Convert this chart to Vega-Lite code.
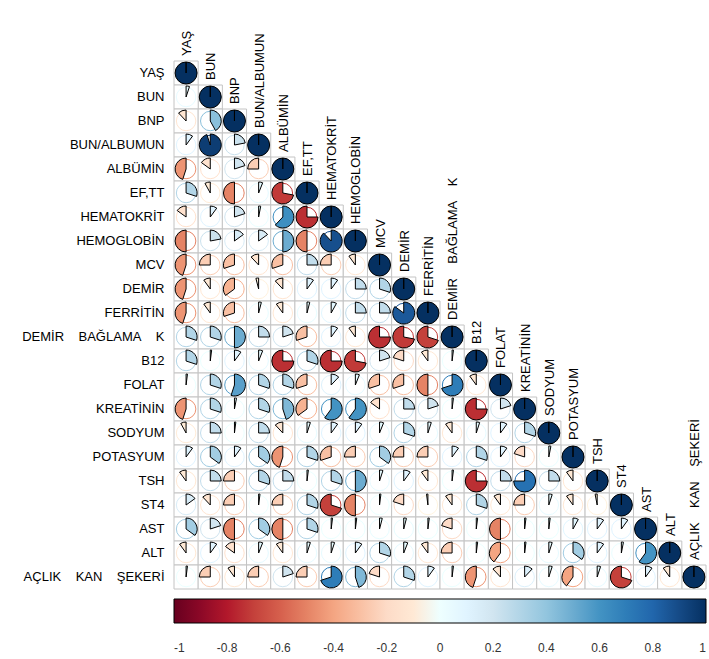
{
  "$schema": "https://vega.github.io/schema/vega-lite/v6.json",
  "autosize": "none",
  "padding": {"left": 174, "top": 61, "right": 3, "bottom": 70},
  "width": 532,
  "height": 528,
  "config": {"view": {"stroke": null}, "font": "Liberation Sans"},
  "data": {"values": [
    {"row":"YAŞ","col":"YAŞ","r":1},
    {"row":"BUN","col":"BUN","r":1},
    {"row":"BNP","col":"BNP","r":1},
    {"row":"BUN/ALBUMUN","col":"BUN/ALBUMUN","r":1},
    {"row":"ALBÜMİN","col":"ALBÜMİN","r":1},
    {"row":"EF,TT","col":"EF,TT","r":1},
    {"row":"HEMATOKRİT","col":"HEMATOKRİT","r":1},
    {"row":"HEMOGLOBİN","col":"HEMOGLOBİN","r":1},
    {"row":"MCV","col":"MCV","r":1},
    {"row":"DEMİR","col":"DEMİR","r":1},
    {"row":"FERRİTİN","col":"FERRİTİN","r":1},
    {"row":"DEMİR BAĞLAMA K","col":"DEMİR BAĞLAMA K","r":1},
    {"row":"B12","col":"B12","r":1},
    {"row":"FOLAT","col":"FOLAT","r":1},
    {"row":"KREATİNİN","col":"KREATİNİN","r":1},
    {"row":"SODYUM","col":"SODYUM","r":1},
    {"row":"POTASYUM","col":"POTASYUM","r":1},
    {"row":"TSH","col":"TSH","r":1},
    {"row":"ST4","col":"ST4","r":1},
    {"row":"AST","col":"AST","r":1},
    {"row":"ALT","col":"ALT","r":1},
    {"row":"AÇLIK KAN ŞEKERİ","col":"AÇLIK KAN ŞEKERİ","r":1},
    {"row":"BUN","col":"YAŞ","r":0.05},
    {"row":"BNP","col":"YAŞ","r":-0.12},
    {"row":"BNP","col":"BUN","r":0.42},
    {"row":"BUN/ALBUMUN","col":"YAŞ","r":0.1},
    {"row":"BUN/ALBUMUN","col":"BUN","r":0.95},
    {"row":"BUN/ALBUMUN","col":"BNP","r":0.22},
    {"row":"ALBÜMİN","col":"YAŞ","r":-0.45},
    {"row":"ALBÜMİN","col":"BUN","r":-0.15},
    {"row":"ALBÜMİN","col":"BNP","r":0.2},
    {"row":"ALBÜMİN","col":"BUN/ALBUMUN","r":-0.25},
    {"row":"EF,TT","col":"YAŞ","r":0.3},
    {"row":"EF,TT","col":"BUN","r":-0.08},
    {"row":"EF,TT","col":"BNP","r":-0.5},
    {"row":"EF,TT","col":"BUN/ALBUMUN","r":0.06},
    {"row":"EF,TT","col":"ALBÜMİN","r":-0.72},
    {"row":"HEMATOKRİT","col":"YAŞ","r":-0.15},
    {"row":"HEMATOKRİT","col":"BUN","r":0.1},
    {"row":"HEMATOKRİT","col":"BNP","r":0.2},
    {"row":"HEMATOKRİT","col":"BUN/ALBUMUN","r":0.03},
    {"row":"HEMATOKRİT","col":"ALBÜMİN","r":0.62},
    {"row":"HEMATOKRİT","col":"EF,TT","r":-0.75},
    {"row":"HEMOGLOBİN","col":"YAŞ","r":-0.5},
    {"row":"HEMOGLOBİN","col":"BUN","r":0.22},
    {"row":"HEMOGLOBİN","col":"BNP","r":0.15},
    {"row":"HEMOGLOBİN","col":"BUN/ALBUMUN","r":0.15},
    {"row":"HEMOGLOBİN","col":"ALBÜMİN","r":0.5},
    {"row":"HEMOGLOBİN","col":"EF,TT","r":-0.5},
    {"row":"HEMOGLOBİN","col":"HEMATOKRİT","r":0.88},
    {"row":"MCV","col":"YAŞ","r":-0.45},
    {"row":"MCV","col":"BUN","r":-0.25},
    {"row":"MCV","col":"BNP","r":-0.3},
    {"row":"MCV","col":"BUN/ALBUMUN","r":-0.12},
    {"row":"MCV","col":"ALBÜMİN","r":-0.3},
    {"row":"MCV","col":"EF,TT","r":0.25},
    {"row":"MCV","col":"HEMATOKRİT","r":-0.25},
    {"row":"MCV","col":"HEMOGLOBİN","r":-0.1},
    {"row":"DEMİR","col":"YAŞ","r":-0.45},
    {"row":"DEMİR","col":"BUN","r":-0.1},
    {"row":"DEMİR","col":"BNP","r":-0.35},
    {"row":"DEMİR","col":"BUN/ALBUMUN","r":-0.04},
    {"row":"DEMİR","col":"ALBÜMİN","r":-0.12},
    {"row":"DEMİR","col":"EF,TT","r":0.1},
    {"row":"DEMİR","col":"HEMATOKRİT","r":0.1},
    {"row":"DEMİR","col":"HEMOGLOBİN","r":0.25},
    {"row":"DEMİR","col":"MCV","r":0.3},
    {"row":"FERRİTİN","col":"YAŞ","r":-0.45},
    {"row":"FERRİTİN","col":"BUN","r":-0.1},
    {"row":"FERRİTİN","col":"BNP","r":-0.3},
    {"row":"FERRİTİN","col":"BUN/ALBUMUN","r":0.04},
    {"row":"FERRİTİN","col":"ALBÜMİN","r":-0.1},
    {"row":"FERRİTİN","col":"EF,TT","r":0.04},
    {"row":"FERRİTİN","col":"HEMATOKRİT","r":0.08},
    {"row":"FERRİTİN","col":"HEMOGLOBİN","r":0.25},
    {"row":"FERRİTİN","col":"MCV","r":0.25},
    {"row":"FERRİTİN","col":"DEMİR","r":0.85},
    {"row":"DEMİR BAĞLAMA K","col":"YAŞ","r":0.3},
    {"row":"DEMİR BAĞLAMA K","col":"BUN","r":0.3},
    {"row":"DEMİR BAĞLAMA K","col":"BNP","r":0.5},
    {"row":"DEMİR BAĞLAMA K","col":"BUN/ALBUMUN","r":0.25},
    {"row":"DEMİR BAĞLAMA K","col":"ALBÜMİN","r":0.2},
    {"row":"DEMİR BAĞLAMA K","col":"EF,TT","r":-0.3},
    {"row":"DEMİR BAĞLAMA K","col":"HEMATOKRİT","r":0.1},
    {"row":"DEMİR BAĞLAMA K","col":"HEMOGLOBİN","r":-0.1},
    {"row":"DEMİR BAĞLAMA K","col":"MCV","r":-0.75},
    {"row":"DEMİR BAĞLAMA K","col":"DEMİR","r":-0.72},
    {"row":"DEMİR BAĞLAMA K","col":"FERRİTİN","r":-0.7},
    {"row":"B12","col":"YAŞ","r":0.3},
    {"row":"B12","col":"BUN","r":0.02},
    {"row":"B12","col":"BNP","r":0.1},
    {"row":"B12","col":"BUN/ALBUMUN","r":0.06},
    {"row":"B12","col":"ALBÜMİN","r":-0.75},
    {"row":"B12","col":"EF,TT","r":0.3},
    {"row":"B12","col":"HEMATOKRİT","r":-0.75},
    {"row":"B12","col":"HEMOGLOBİN","r":-0.72},
    {"row":"B12","col":"MCV","r":0.2},
    {"row":"B12","col":"DEMİR","r":-0.2},
    {"row":"B12","col":"FERRİTİN","r":-0.1},
    {"row":"B12","col":"DEMİR BAĞLAMA K","r":0.02},
    {"row":"FOLAT","col":"YAŞ","r":0.02},
    {"row":"FOLAT","col":"BUN","r":0.3},
    {"row":"FOLAT","col":"BNP","r":0.55},
    {"row":"FOLAT","col":"BUN/ALBUMUN","r":0.3},
    {"row":"FOLAT","col":"ALBÜMİN","r":0.3},
    {"row":"FOLAT","col":"EF,TT","r":-0.3},
    {"row":"FOLAT","col":"HEMATOKRİT","r":0.12},
    {"row":"FOLAT","col":"HEMOGLOBİN","r":0.06},
    {"row":"FOLAT","col":"MCV","r":-0.3},
    {"row":"FOLAT","col":"DEMİR","r":-0.3},
    {"row":"FOLAT","col":"FERRİTİN","r":-0.5},
    {"row":"FOLAT","col":"DEMİR BAĞLAMA K","r":0.7},
    {"row":"FOLAT","col":"B12","r":-0.1},
    {"row":"KREATİNİN","col":"YAŞ","r":-0.45},
    {"row":"KREATİNİN","col":"BUN","r":0.3},
    {"row":"KREATİNİN","col":"BNP","r":0.03},
    {"row":"KREATİNİN","col":"BUN/ALBUMUN","r":0.3},
    {"row":"KREATİNİN","col":"ALBÜMİN","r":0.45},
    {"row":"KREATİNİN","col":"EF,TT","r":-0.35},
    {"row":"KREATİNİN","col":"HEMATOKRİT","r":0.6},
    {"row":"KREATİNİN","col":"HEMOGLOBİN","r":0.6},
    {"row":"KREATİNİN","col":"MCV","r":-0.15},
    {"row":"KREATİNİN","col":"DEMİR","r":0.25},
    {"row":"KREATİNİN","col":"FERRİTİN","r":0.2},
    {"row":"KREATİNİN","col":"DEMİR BAĞLAMA K","r":0.02},
    {"row":"KREATİNİN","col":"B12","r":-0.75},
    {"row":"KREATİNİN","col":"FOLAT","r":0.2},
    {"row":"SODYUM","col":"YAŞ","r":-0.08},
    {"row":"SODYUM","col":"BUN","r":0.25},
    {"row":"SODYUM","col":"BNP","r":0.02},
    {"row":"SODYUM","col":"BUN/ALBUMUN","r":0.25},
    {"row":"SODYUM","col":"ALBÜMİN","r":-0.12},
    {"row":"SODYUM","col":"EF,TT","r":0.05},
    {"row":"SODYUM","col":"HEMATOKRİT","r":0.1},
    {"row":"SODYUM","col":"HEMOGLOBİN","r":0.1},
    {"row":"SODYUM","col":"MCV","r":0.06},
    {"row":"SODYUM","col":"DEMİR","r":0.3},
    {"row":"SODYUM","col":"FERRİTİN","r":0.05},
    {"row":"SODYUM","col":"DEMİR BAĞLAMA K","r":-0.1},
    {"row":"SODYUM","col":"B12","r":0.05},
    {"row":"SODYUM","col":"FOLAT","r":0.1},
    {"row":"SODYUM","col":"KREATİNİN","r":0.3},
    {"row":"POTASYUM","col":"YAŞ","r":0.1},
    {"row":"POTASYUM","col":"BUN","r":0.35},
    {"row":"POTASYUM","col":"BNP","r":0.1},
    {"row":"POTASYUM","col":"BUN/ALBUMUN","r":0.35},
    {"row":"POTASYUM","col":"ALBÜMİN","r":-0.45},
    {"row":"POTASYUM","col":"EF,TT","r":0.3},
    {"row":"POTASYUM","col":"HEMATOKRİT","r":-0.3},
    {"row":"POTASYUM","col":"HEMOGLOBİN","r":-0.25},
    {"row":"POTASYUM","col":"MCV","r":0.35},
    {"row":"POTASYUM","col":"DEMİR","r":-0.25},
    {"row":"POTASYUM","col":"FERRİTİN","r":-0.25},
    {"row":"POTASYUM","col":"DEMİR BAĞLAMA K","r":0.1},
    {"row":"POTASYUM","col":"B12","r":0.3},
    {"row":"POTASYUM","col":"FOLAT","r":0.1},
    {"row":"POTASYUM","col":"KREATİNİN","r":-0.2},
    {"row":"POTASYUM","col":"SODYUM","r":0.03},
    {"row":"TSH","col":"YAŞ","r":-0.1},
    {"row":"TSH","col":"BUN","r":0.25},
    {"row":"TSH","col":"BNP","r":-0.25},
    {"row":"TSH","col":"BUN/ALBUMUN","r":0.3},
    {"row":"TSH","col":"ALBÜMİN","r":0.25},
    {"row":"TSH","col":"EF,TT","r":0.02},
    {"row":"TSH","col":"HEMATOKRİT","r":0.3},
    {"row":"TSH","col":"HEMOGLOBİN","r":0.5},
    {"row":"TSH","col":"MCV","r":0.05},
    {"row":"TSH","col":"DEMİR","r":0.1},
    {"row":"TSH","col":"FERRİTİN","r":-0.1},
    {"row":"TSH","col":"DEMİR BAĞLAMA K","r":0.02},
    {"row":"TSH","col":"B12","r":-0.75},
    {"row":"TSH","col":"FOLAT","r":0.25},
    {"row":"TSH","col":"KREATİNİN","r":0.75},
    {"row":"TSH","col":"SODYUM","r":0.25},
    {"row":"TSH","col":"POTASYUM","r":-0.1},
    {"row":"ST4","col":"YAŞ","r":0.15},
    {"row":"ST4","col":"BUN","r":-0.12},
    {"row":"ST4","col":"BNP","r":-0.25},
    {"row":"ST4","col":"BUN/ALBUMUN","r":0.02},
    {"row":"ST4","col":"ALBÜMİN","r":-0.25},
    {"row":"ST4","col":"EF,TT","r":0.3},
    {"row":"ST4","col":"HEMATOKRİT","r":-0.7},
    {"row":"ST4","col":"HEMOGLOBİN","r":-0.5},
    {"row":"ST4","col":"MCV","r":0.02},
    {"row":"ST4","col":"DEMİR","r":-0.2},
    {"row":"ST4","col":"FERRİTİN","r":-0.02},
    {"row":"ST4","col":"DEMİR BAĞLAMA K","r":-0.1},
    {"row":"ST4","col":"B12","r":0.3},
    {"row":"ST4","col":"FOLAT","r":-0.1},
    {"row":"ST4","col":"KREATİNİN","r":-0.25},
    {"row":"ST4","col":"SODYUM","r":0.05},
    {"row":"ST4","col":"POTASYUM","r":-0.1},
    {"row":"ST4","col":"TSH","r":-0.03},
    {"row":"AST","col":"YAŞ","r":0.35},
    {"row":"AST","col":"BUN","r":0.2},
    {"row":"AST","col":"BNP","r":-0.5},
    {"row":"AST","col":"BUN/ALBUMUN","r":0.35},
    {"row":"AST","col":"ALBÜMİN","r":-0.5},
    {"row":"AST","col":"EF,TT","r":0.3},
    {"row":"AST","col":"HEMATOKRİT","r":0.02},
    {"row":"AST","col":"HEMOGLOBİN","r":0.02},
    {"row":"AST","col":"MCV","r":0.04},
    {"row":"AST","col":"DEMİR","r":0.04},
    {"row":"AST","col":"FERRİTİN","r":0.02},
    {"row":"AST","col":"DEMİR BAĞLAMA K","r":-0.2},
    {"row":"AST","col":"B12","r":0.02},
    {"row":"AST","col":"FOLAT","r":-0.5},
    {"row":"AST","col":"KREATİNİN","r":0.02},
    {"row":"AST","col":"SODYUM","r":0.02},
    {"row":"AST","col":"POTASYUM","r":0.08},
    {"row":"AST","col":"TSH","r":0.1},
    {"row":"AST","col":"ST4","r":0.1},
    {"row":"ALT","col":"YAŞ","r":-0.1},
    {"row":"ALT","col":"BUN","r":0.1},
    {"row":"ALT","col":"BNP","r":-0.15},
    {"row":"ALT","col":"BUN/ALBUMUN","r":0.06},
    {"row":"ALT","col":"ALBÜMİN","r":-0.1},
    {"row":"ALT","col":"EF,TT","r":0.05},
    {"row":"ALT","col":"HEMATOKRİT","r":0.05},
    {"row":"ALT","col":"HEMOGLOBİN","r":0.1},
    {"row":"ALT","col":"MCV","r":0.3},
    {"row":"ALT","col":"DEMİR","r":0.06},
    {"row":"ALT","col":"FERRİTİN","r":-0.1},
    {"row":"ALT","col":"DEMİR BAĞLAMA K","r":-0.25},
    {"row":"ALT","col":"B12","r":0.02},
    {"row":"ALT","col":"FOLAT","r":-0.4},
    {"row":"ALT","col":"KREATİNİN","r":0.02},
    {"row":"ALT","col":"SODYUM","r":0.05},
    {"row":"ALT","col":"POTASYUM","r":0.35},
    {"row":"ALT","col":"TSH","r":0.1},
    {"row":"ALT","col":"ST4","r":0.03},
    {"row":"ALT","col":"AST","r":0.6},
    {"row":"AÇLIK KAN ŞEKERİ","col":"YAŞ","r":0.02},
    {"row":"AÇLIK KAN ŞEKERİ","col":"BUN","r":-0.25},
    {"row":"AÇLIK KAN ŞEKERİ","col":"BNP","r":-0.1},
    {"row":"AÇLIK KAN ŞEKERİ","col":"BUN/ALBUMUN","r":-0.25},
    {"row":"AÇLIK KAN ŞEKERİ","col":"ALBÜMİN","r":0.2},
    {"row":"AÇLIK KAN ŞEKERİ","col":"EF,TT","r":-0.25},
    {"row":"AÇLIK KAN ŞEKERİ","col":"HEMATOKRİT","r":0.7},
    {"row":"AÇLIK KAN ŞEKERİ","col":"HEMOGLOBİN","r":0.45},
    {"row":"AÇLIK KAN ŞEKERİ","col":"MCV","r":-0.2},
    {"row":"AÇLIK KAN ŞEKERİ","col":"DEMİR","r":0.3},
    {"row":"AÇLIK KAN ŞEKERİ","col":"FERRİTİN","r":0.1},
    {"row":"AÇLIK KAN ŞEKERİ","col":"DEMİR BAĞLAMA K","r":0.02},
    {"row":"AÇLIK KAN ŞEKERİ","col":"B12","r":-0.45},
    {"row":"AÇLIK KAN ŞEKERİ","col":"FOLAT","r":-0.12},
    {"row":"AÇLIK KAN ŞEKERİ","col":"KREATİNİN","r":0.12},
    {"row":"AÇLIK KAN ŞEKERİ","col":"SODYUM","r":0.05},
    {"row":"AÇLIK KAN ŞEKERİ","col":"POTASYUM","r":-0.4},
    {"row":"AÇLIK KAN ŞEKERİ","col":"TSH","r":0.05},
    {"row":"AÇLIK KAN ŞEKERİ","col":"ST4","r":-0.7},
    {"row":"AÇLIK KAN ŞEKERİ","col":"AST","r":0.1},
    {"row":"AÇLIK KAN ŞEKERİ","col":"ALT","r":-0.1}
  ]},
  "encoding": {
    "x": {"field": "col", "type": "nominal", "axis": null,
      "scale": {"domain": ["YAŞ","BUN","BNP","BUN/ALBUMUN","ALBÜMİN","EF,TT","HEMATOKRİT","HEMOGLOBİN","MCV","DEMİR","FERRİTİN","DEMİR BAĞLAMA K","B12","FOLAT","KREATİNİN","SODYUM","POTASYUM","TSH","ST4","AST","ALT","AÇLIK KAN ŞEKERİ"], "paddingInner": 0, "paddingOuter": 0}},
    "y": {"field": "row", "type": "nominal",
      "axis": {"title": null, "domain": false, "ticks": false, "labelPadding": 10, "labelFontSize": 13, "labelColor": "black", "labelFont": "Liberation Sans", "grid": false,
        "labelExpr": "replace(datum.label, regexp(' ', 'g'), '\u00a0\u00a0\u00a0\u00a0')"},
      "scale": {"domain": ["YAŞ","BUN","BNP","BUN/ALBUMUN","ALBÜMİN","EF,TT","HEMATOKRİT","HEMOGLOBİN","MCV","DEMİR","FERRİTİN","DEMİR BAĞLAMA K","B12","FOLAT","KREATİNİN","SODYUM","POTASYUM","TSH","ST4","AST","ALT","AÇLIK KAN ŞEKERİ"], "paddingInner": 0, "paddingOuter": 0}}
  },
  "layer": [
    {"mark": {"type": "rect", "fill": "white", "stroke": "#c4c4c4", "strokeWidth": 1}},
    {"mark": {"type": "point", "shape": "circle", "filled": false, "size": 380, "strokeWidth": 1, "opacity": 1},
     "encoding": {"stroke": {"field": "r", "type": "quantitative",
        "scale": {"domain": [-1.000001,-0.8,-0.6,-0.4,-0.2,0,0.2,0.4,0.6,0.8,1.000001], "range": ["#67001F","#B2182B","#D6604D","#F4A582","#FDDBC7","#FFFFFF","#D1E5F0","#92C5DE","#4393C3","#2166AC","#053061"]},
        "legend": null}}},
    {"mark": {"type": "arc", "radius": 11, "stroke": "black", "strokeWidth": 1},
     "encoding": {
       "theta": {"field": "r", "type": "quantitative", "stack": null, "scale": {"domain": [-1, 1], "range": [-6.283185, 6.283185], "zero": false}},
       "theta2": {"datum": 0},
       "fill": {"field": "r", "type": "quantitative",
        "scale": {"domain": [-1,-0.8,-0.6,-0.4,-0.2,0,0.2,0.4,0.6,0.8,1], "range": ["#67001F","#B2182B","#D6604D","#F4A582","#FDDBC7","#FFFFFF","#D1E5F0","#92C5DE","#4393C3","#2166AC","#053061"]},
        "legend": {"type": "gradient", "title": null, "orient": "bottom", "direction": "horizontal", "gradientLength": 532, "gradientThickness": 24, "values": [-1,-0.8,-0.6,-0.4,-0.2,0,0.2,0.4,0.6,0.8,1], "labelExpr": "'' + datum.value", "labelFontSize": 12, "labelColor": "#333333", "labelFont": "Liberation Sans", "labelOverlap": false, "gradientStrokeColor": "black", "gradientStrokeWidth": 1, "offset": 10, "labelOffset": 20}}}},
    {"transform": [{"filter": "datum.row === datum.col"}],
     "mark": {"type": "text", "angle": 270, "align": "left", "baseline": "middle", "dx": 17, "dy": 1, "fontSize": 13, "font": "Liberation Sans", "color": "black",
       "text": {"expr": "replace(datum.col, regexp(' ', 'g'), '\u00a0\u00a0\u00a0\u00a0')"}}}
  ]
}
